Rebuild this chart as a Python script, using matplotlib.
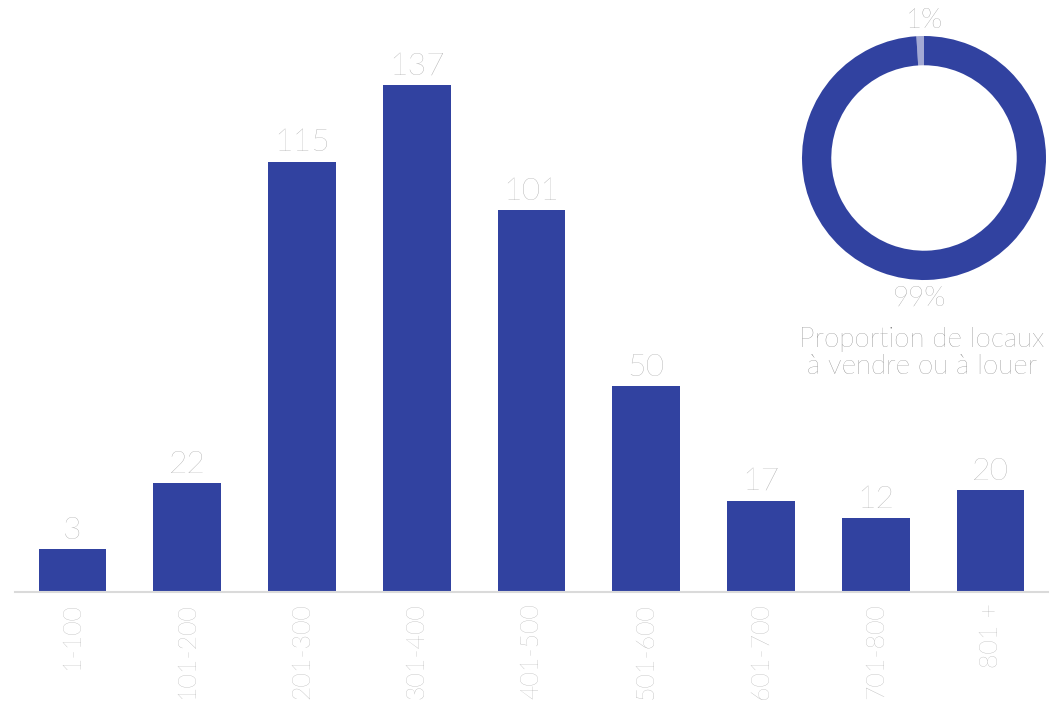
import numpy as np
import matplotlib.pyplot as plt
from matplotlib import font_manager

# données : nombre de locaux par tranche de surface
tranches = ['1-100', '101-200', '201-300', '301-400', '401-500',
            '501-600', '601-700', '701-800', '801 +']
nb_locaux = [3, 22, 115, 137, 101, 50, 17, 12, 20]

# part des locaux à vendre ou à louer
parts = [1, 99]
parts_labels = ['1%', '99%']

bleu = '#3142A0'
bleu_clair = '#A3A9D4'
gris = '#A0A0A0'

noms = {f.name for f in font_manager.fontManager.ttflist}
police = 'Lato' if 'Lato' in noms else 'DejaVu Sans'
plt.rcParams['font.family'] = [police, 'DejaVu Sans']

fig = plt.figure(figsize=(10.52, 7.07), dpi=100)
ax = fig.add_axes([15 / 1052, 115 / 707, 1033 / 1052, 592 / 707])

y_min = -9.4
x = np.arange(len(tranches))
vals = np.array(nb_locaux)
barres = ax.bar(x, vals - y_min, bottom=y_min, width=0.59, color=bleu)
for xi, v in zip(x, nb_locaux):
    ax.text(xi, v + 1.2, str(v), ha='center', va='bottom',
            fontsize=23, color=gris, fontweight='light')

ax.set_xlim(-0.5, 8.5)
ax.set_ylim(y_min, 161.7)
ax.set_xticks(x)
ax.set_xticklabels(tranches, rotation=90, fontsize=18, color=gris,
                   fontweight='light')
ax.tick_params(axis='x', length=0, pad=8)
ax.set_yticks([])
for s in ['top', 'right', 'left']:
    ax.spines[s].set_visible(False)
ax.spines['bottom'].set_color('#DADADA')
ax.spines['bottom'].set_linewidth(1.5)

# anneau
ax2 = fig.add_axes([(924 - 122) / 1052, (707 - 158 - 122) / 707,
                    244 / 1052, 244 / 707])
ax2.pie(parts, colors=[bleu_clair, bleu], startangle=90, counterclock=True,
        wedgeprops=dict(width=0.24, linewidth=0))
ax2.set_aspect('equal')
ax2.set_xlim(-1, 1)
ax2.set_ylim(-1, 1)

fig.text(924 / 1052, 1 - 21 / 707, parts_labels[0], ha='center', va='center',
         fontsize=20, color='#808080', fontweight='light')
fig.text(920 / 1052, 1 - 298 / 707, parts_labels[1], ha='center', va='center',
         fontsize=20, color='#808080', fontweight='light')
fig.text(922 / 1052, 1 - 353 / 707, 'Proportion de locaux\nà vendre ou à louer',
         ha='center', va='center', fontsize=20, color='#707070',
         fontweight='light', linespacing=1.1)

fig.savefig('out.png', dpi=100)
